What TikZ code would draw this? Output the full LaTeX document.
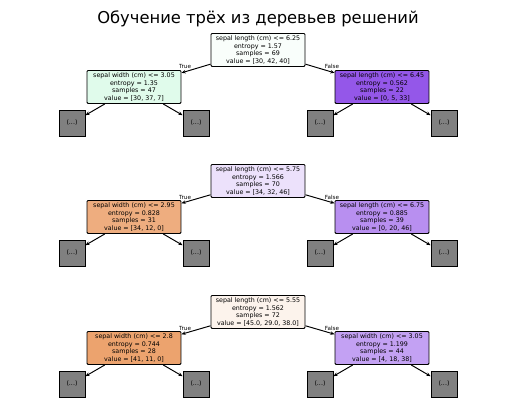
\documentclass[tikz,border=0pt]{standalone}
\usepackage{fontspec}
\setmainfont{DejaVu Sans}
\usepackage{xcolor}
\usetikzlibrary{arrows.meta}
% node colours (class shades)
\definecolor{rootA}{RGB}{249,254,251}
\definecolor{leftA}{RGB}{224,251,235}
\definecolor{rightA}{RGB}{148,87,233}
\definecolor{rootB}{RGB}{236,225,251}
\definecolor{leftB}{RGB}{238,173,127}
\definecolor{rightB}{RGB}{184,143,240}
\definecolor{rootC}{RGB}{252,243,236}
\definecolor{leftC}{RGB}{236,163,110}
\definecolor{rightC}{RGB}{195,161,243}
\definecolor{cutgray}{RGB}{128,128,128}

\begin{document}
\begin{tikzpicture}[
    x=0.02cm, y=-0.02cm,
    font=\fontsize{3.6}{4.25}\selectfont,
    split/.style={draw, rounded corners=0.6pt, line width=0.55pt, align=center,
        inner sep=1.3pt, minimum width=1.88cm, minimum height=0.66cm},
    leaf/.style={draw, line width=0.55pt, fill=cutgray, minimum size=0.52cm, inner sep=0pt},
    edge/.style={-{Stealth[length=2.4pt,width=2pt]}, line width=0.55pt},
    branch/.style={font=\fontsize{3.2}{3.6}\selectfont}
]
\useasboundingbox (0,0) rectangle (515,412);
\node[font=\fontsize{9.3}{11}\selectfont] (title) at (258,18.5) {Обучение трёх из деревьев решений};

% tree 1
\node[split, fill=rootA] (r1) at (258,50) {sepal length (cm) <= 6.25\\entropy = 1.57\\samples = 69\\value = [30, 42, 40]};
\node[split, fill=leftA] (l1) at (134,87) {sepal width (cm) <= 3.05\\entropy = 1.35\\samples = 47\\value = [30, 37, 7]};
\node[split, fill=rightA] (p1) at (382,87) {sepal length (cm) <= 6.45\\entropy = 0.562\\samples = 22\\value = [0, 5, 33]};
\node[leaf] (l1a) at (72,123) {(...)};
\node[leaf] (l1b) at (196,123) {(...)};
\node[leaf] (p1a) at (320,123) {(...)};
\node[leaf] (p1b) at (444,123) {(...)};
\draw[edge] (r1) -- (l1);
\draw[edge] (r1) -- (p1);
\draw[edge] (l1) -- (l1a);
\draw[edge] (l1) -- (l1b);
\draw[edge] (p1) -- (p1a);
\draw[edge] (p1) -- (p1b);
\node[branch] (t1) at (185,66) {True};
\node[branch] (f1) at (332,66) {False};

% tree 2
\node[split, fill=rootB] (r2) at (258,181) {sepal length (cm) <= 5.75\\entropy = 1.566\\samples = 70\\value = [34, 32, 46]};
\node[split, fill=leftB] (l2) at (134,217) {sepal width (cm) <= 2.95\\entropy = 0.828\\samples = 31\\value = [34, 12, 0]};
\node[split, fill=rightB] (p2) at (382,217) {sepal length (cm) <= 6.75\\entropy = 0.885\\samples = 39\\value = [0, 20, 46]};
\node[leaf] (l2a) at (72,253) {(...)};
\node[leaf] (l2b) at (196,253) {(...)};
\node[leaf] (p2a) at (320,253) {(...)};
\node[leaf] (p2b) at (444,253) {(...)};
\draw[edge] (r2) -- (l2);
\draw[edge] (r2) -- (p2);
\draw[edge] (l2) -- (l2a);
\draw[edge] (l2) -- (l2b);
\draw[edge] (p2) -- (p2a);
\draw[edge] (p2) -- (p2b);
\node[branch] (t2) at (185,197) {True};
\node[branch] (f2) at (332,197) {False};

% tree 3
\node[split, fill=rootC] (r3) at (258,312) {sepal length (cm) <= 5.55\\entropy = 1.562\\samples = 72\\value = [45.0, 29.0, 38.0]};
\node[split, fill=leftC] (l3) at (134,348) {sepal width (cm) <= 2.8\\entropy = 0.744\\samples = 28\\value = [41, 11, 0]};
\node[split, fill=rightC] (p3) at (382,348) {sepal width (cm) <= 3.05\\entropy = 1.199\\samples = 44\\value = [4, 18, 38]};
\node[leaf] (l3a) at (72,384) {(...)};
\node[leaf] (l3b) at (196,384) {(...)};
\node[leaf] (p3a) at (320,384) {(...)};
\node[leaf] (p3b) at (444,384) {(...)};
\draw[edge] (r3) -- (l3);
\draw[edge] (r3) -- (p3);
\draw[edge] (l3) -- (l3a);
\draw[edge] (l3) -- (l3b);
\draw[edge] (p3) -- (p3a);
\draw[edge] (p3) -- (p3b);
\node[branch] (t3) at (185,328) {True};
\node[branch] (f3) at (332,328) {False};
\end{tikzpicture}
\end{document}
